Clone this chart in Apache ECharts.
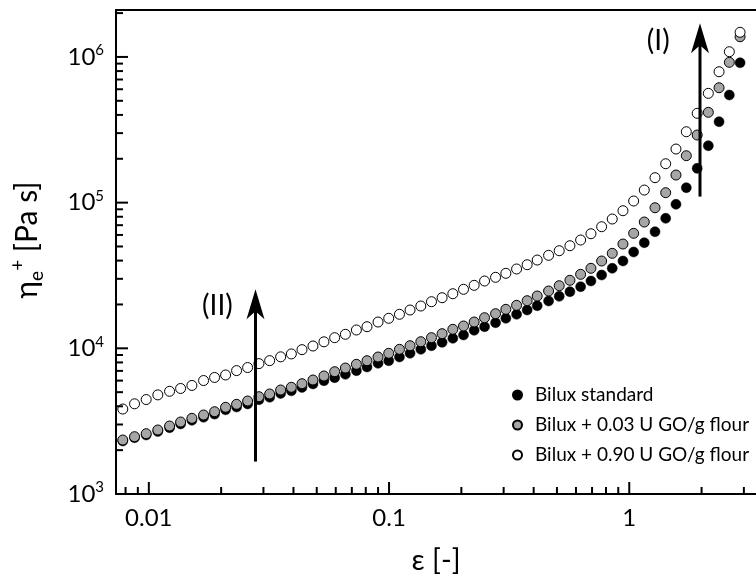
<!DOCTYPE html>
<html><head><meta charset="utf-8">
<script src="https://cdn.jsdelivr.net/npm/echarts@6/dist/echarts.min.js"></script>
<style>html,body{margin:0;padding:0;background:#fff}#c{width:756px;height:578px}</style>
</head><body><div id="c"></div>
<script>
// ---- data ----
const strain = [0.00779, 0.00872, 0.00975, 0.0109, 0.0122, 0.01356, 0.01511, 0.0169, 0.01878, 0.02087,
  0.02319, 0.02578, 0.02873, 0.03184, 0.03538, 0.0392, 0.04341, 0.04823, 0.05358, 0.05938,
  0.06581, 0.07313, 0.08095, 0.08999, 0.0997, 0.1105, 0.1223, 0.1356, 0.1502, 0.1663,
  0.1843, 0.2042, 0.2261, 0.2498, 0.2776, 0.3064, 0.3396, 0.3758, 0.4138, 0.4615,
  0.511, 0.5662, 0.6274, 0.6926, 0.7674, 0.8495, 0.9415, 1.043, 1.155, 1.28,
  1.418, 1.565, 1.728, 1.918, 2.134, 2.365, 2.61, 2.893];
const etaStandard = [2311, 2434, 2541, 2685, 2851, 3028, 3205, 3366, 3535, 3784,
  3955, 4153, 4438, 4617, 4902, 5108, 5391, 5697, 5993, 6285,
  6631, 7022, 7443, 7891, 8221, 8716, 9240, 9843, 10420, 10990,
  11710, 12340, 13290, 14070, 14990, 16070, 17120, 18320, 19610, 21120,
  22750, 24460, 26470, 28970, 31850, 35410, 39740, 45810, 53060, 63150,
  78040, 97340, 126600, 171900, 245800, 359300, 547700, 912500];
const eta003 = [2347, 2474, 2594, 2750, 2929, 3120, 3307, 3485, 3672, 3937,
  4127, 4348, 4654, 4857, 5174, 5400, 5715, 6059, 6455, 6910,
  7323, 7765, 8221, 8716, 9240, 9843, 10420, 11100, 11830, 12600,
  13500, 14230, 15150, 16220, 17280, 18520, 19730, 21220, 22860, 24740,
  26900, 29290, 32200, 35410, 39740, 44870, 51980, 61560, 73590, 92260,
  117000, 154700, 209900, 291100, 416800, 614600, 918300, 1376000];
const eta090 = [3830, 4160, 4450, 4790, 5070, 5300, 5560, 6010, 6310, 6560,
  7030, 7380, 7850, 8230, 8740, 9150, 9790, 10370, 11080, 11830,
  12480, 13360, 14070, 15150, 16070, 17120, 18320, 19510, 20890, 22250,
  23700, 25410, 27060, 28970, 30720, 32720, 35030, 37480, 40360, 43480,
  46770, 50610, 55380, 61170, 68320, 77180, 87980, 102600, 122000, 148300,
  184900, 233300, 306600, 410200, 562600, 791600, 1086000, 1476000];
const seriesNames = ['Bilux standard', 'Bilux + 0.03 U GO/g flour', 'Bilux + 0.90 U GO/g flour'];

const xRange = [0.0073, 3.37];
const yRange = [1000, 2.1e6];
const xMajorTicks = [0.01, 0.1, 1];
const xMinorTicks = [0.008, 0.009, 0.02, 0.03, 0.04, 0.05, 0.06, 0.07, 0.08, 0.09,
  0.2, 0.3, 0.4, 0.5, 0.6, 0.7, 0.8, 0.9, 2, 3];
const yMajorTicks = [1e3, 1e4, 1e5, 1e6];
const yMinorTicks = [2e3, 3e3, 4e3, 5e3, 6e3, 7e3, 8e3, 9e3,
  2e4, 3e4, 4e4, 5e4, 6e4, 7e4, 8e4, 9e4,
  2e5, 3e5, 4e5, 5e5, 6e5, 7e5, 8e5, 9e5, 2e6];

// annotations: arrows [tail, tip] and labels
const arrowI = [[1.97, 1.1e5], [1.97, 1.70e6]];
const arrowII = [[0.0278, 1.67e3], [0.0278, 2.54e4]];
const annoLabels = [['(I)', 1.32, 1.29e6], ['(II)', 0.0193, 1.95e4]];

// ---- chart ----
const FONT = 'Lato';
const chart = echarts.init(document.getElementById('c'), null, {renderer: 'canvas'});
const pts = arr => strain.map((x, i) => [x, arr[i]]);

const option = {
  animation: false,
  backgroundColor: '#fff',
  textStyle: {fontFamily: FONT, color: '#000'},
  grid: {left: 116, right: 0, top: 10, bottom: 84, containLabel: false, outerBoundsMode: 'none'},
  xAxis: [{
    type: 'log', logBase: 10, min: xRange[0], max: xRange[1],
    axisLine: {show: true, onZero: false, lineStyle: {color: '#000', width: 2}},
    axisTick: {show: false}, minorTick: {show: false}, splitLine: {show: false},
    axisLabel: {color: '#000', fontSize: 24, fontFamily: FONT, margin: 12,
      showMinLabel: false, showMaxLabel: false,
      formatter: v => String(Number(v.toPrecision(1)))},
    name: 'ε [-]', nameLocation: 'middle', nameGap: 52,
    nameTextStyle: {fontSize: 29, color: '#000', fontFamily: FONT}
  }, {
    type: 'log', logBase: 10, min: xRange[0], max: xRange[1], position: 'top',
    axisLine: {show: true, lineStyle: {color: '#000', width: 2}},
    axisTick: {show: false}, axisLabel: {show: false}, splitLine: {show: false}
  }],
  yAxis: {
    type: 'log', logBase: 10, min: yRange[0], max: yRange[1],
    axisLine: {show: true, onZero: false, lineStyle: {color: '#000', width: 2}},
    axisTick: {show: false}, minorTick: {show: false}, splitLine: {show: false},
    axisLabel: {margin: 12, showMaxLabel: false,
      formatter: v => '{b|10}{s|' + Math.round(Math.log10(v)) + '}',
      rich: {
        b: {fontSize: 24, lineHeight: 28, fontFamily: FONT, color: '#000'},
        s: {fontSize: 15, lineHeight: 15, verticalAlign: 'top', fontFamily: FONT, color: '#000'}
      }},
    name: 'η{sub|e}{sup|+} [Pa s]', nameLocation: 'middle', nameRotate: 90, nameGap: 70,
    nameTextStyle: {fontSize: 30, lineHeight: 38, fontFamily: FONT, color: '#000', padding: [0, 0, 0, 24],
      rich: {
        sub: {fontSize: 19, lineHeight: 19, verticalAlign: 'bottom', fontFamily: FONT, color: '#000'},
        sup: {fontSize: 19, lineHeight: 19, verticalAlign: 'top', fontFamily: FONT, color: '#000'}
      }}
  },
  legend: {
    orient: 'vertical', left: 507, top: 380, itemWidth: 9, itemHeight: 9, itemGap: 10,
    icon: 'circle', data: seriesNames,
    textStyle: {fontSize: 19, lineHeight: 20, fontFamily: FONT, color: '#000', padding: [0, 0, 0, 8]}
  },
  series: [{
    name: seriesNames[0], type: 'scatter', symbol: 'circle', symbolSize: 10,
    itemStyle: {color: '#000', borderColor: '#000', borderWidth: 0.5, opacity: 1},
    data: pts(etaStandard)
  }, {
    name: seriesNames[1], type: 'scatter', symbol: 'circle', symbolSize: 10,
    itemStyle: {color: '#a6a6a6', borderColor: '#000', borderWidth: 1, opacity: 1},
    data: pts(eta003)
  }, {
    name: seriesNames[2], type: 'scatter', symbol: 'circle', symbolSize: 10,
    itemStyle: {color: '#fff', borderColor: '#000', borderWidth: 1, opacity: 1},
    data: pts(eta090)
  }]
};
chart.setOption(option);

// ticks (inward, log minor ticks), arrows and annotation labels
const g = [];
const px = (x, y) => chart.convertToPixel({xAxisIndex: 0, yAxisIndex: 0}, [x, y]);
const axY = chart.convertToPixel({yAxisIndex: 0}, yRange[0]);
const axX = chart.convertToPixel({xAxisIndex: 0}, xRange[0]);
const tick = (x1, y1, x2, y2) => g.push({type: 'line', silent: true, z: 10,
  shape: {x1, y1, x2, y2}, style: {stroke: '#000', lineWidth: 2}});
xMajorTicks.forEach(v => { const p = chart.convertToPixel({xAxisIndex: 0}, v); tick(p, axY, p, axY - 12); });
xMinorTicks.forEach(v => { const p = chart.convertToPixel({xAxisIndex: 0}, v); tick(p, axY, p, axY - 7); });
yMajorTicks.forEach(v => { const p = chart.convertToPixel({yAxisIndex: 0}, v); tick(axX, p, axX + 12, p); });
yMinorTicks.forEach(v => { const p = chart.convertToPixel({yAxisIndex: 0}, v); tick(axX, p, axX + 7, p); });
[arrowI, arrowII].forEach(([tail, tip]) => {
  const a = px(tail[0], tail[1]), b = px(tip[0], tip[1]);
  g.push({type: 'line', silent: true, z: 20, shape: {x1: a[0], y1: a[1], x2: b[0], y2: b[1] + 20},
    style: {stroke: '#000', lineWidth: 3}});
  g.push({type: 'polygon', silent: true, z: 20,
    shape: {points: [[b[0], b[1]], [b[0] + 9, b[1] + 30], [b[0], b[1] + 22], [b[0] - 9, b[1] + 30]]},
    style: {fill: '#000'}});
});
annoLabels.forEach(([t, x, y]) => {
  const p = px(x, y);
  g.push({type: 'text', silent: true, z: 10, x: p[0], y: p[1],
    style: {text: t, fill: '#000', font: '28px Lato', align: 'center', verticalAlign: 'middle'}});
});
chart.setOption({graphic: g});
</script>
</body></html>
